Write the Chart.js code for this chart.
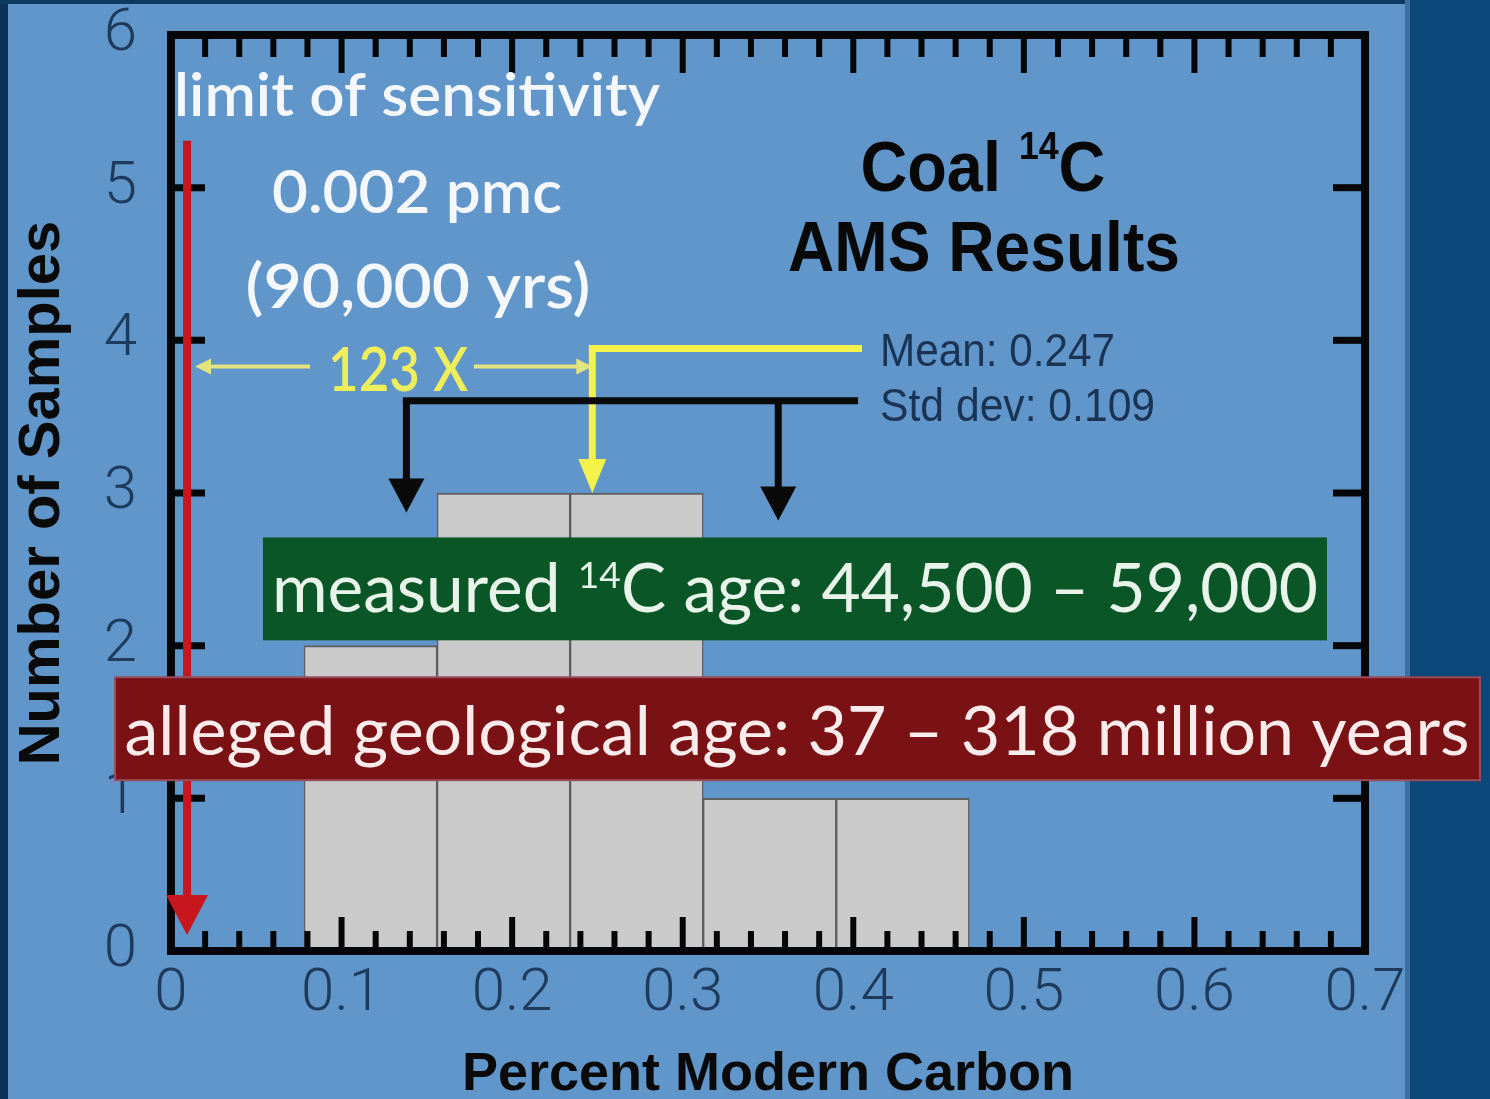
<!DOCTYPE html>
<html><head><meta charset="utf-8">
<script src="https://cdn.jsdelivr.net/npm/chart.js@4.4.1/dist/chart.umd.min.js"></script>
<style>html,body{margin:0;padding:0;background:#6096c9;overflow:hidden}canvas{display:block}</style>
</head><body>
<canvas id="c" width="1490" height="1099" style="width:1490px;height:1099px"></canvas>
<script>
// ---- data ----
const binEdges = [0.078, 0.156, 0.234, 0.312, 0.390, 0.468];
const sampleCounts = [2, 3, 3, 1, 1];
const xTickLabels = ['0', '0.1', '0.2', '0.3', '0.4', '0.5', '0.6', '0.7'];
const yTickLabels = ['0', '1', '2', '3', '4', '5', '6'];
const meanPmc = 0.247;
const stdDevPmc = 0.109;
const barCenters = sampleCounts.map((c, i) => (binEdges[i] + binEdges[i + 1]) / 2);

const BG = '#6096c9';

function drawSegs(ctx, segs, family, weight, size, color, x, y, targetW, align) {
  ctx.save();
  let total = 0;
  const widths = segs.map(s => {
    ctx.font = weight + ' ' + (size * (s.k || 1)) + 'px ' + family;
    const w = ctx.measureText(s.t).width;
    total += w;
    return w;
  });
  const sx = targetW / total;
  const x0 = align === 'left' ? x : x - targetW / 2;
  ctx.translate(x0, y);
  ctx.scale(sx, 1);
  ctx.fillStyle = color;
  ctx.textBaseline = 'alphabetic';
  ctx.textAlign = 'left';
  let cx = 0;
  segs.forEach((s, i) => {
    ctx.font = weight + ' ' + (size * (s.k || 1)) + 'px ' + family;
    ctx.fillText(s.t, cx, -(s.up || 0) * size);
    cx += widths[i];
  });
  ctx.restore();
}

function arrow(ctx, pts, lw, headLen, headHalf, color) {
  // pts: polyline, last point is the tip
  ctx.save();
  ctx.strokeStyle = color; ctx.fillStyle = color; ctx.lineWidth = lw; ctx.lineCap = 'butt'; ctx.lineJoin = 'miter';
  const n = pts.length;
  const [tx, ty] = pts[n - 1];
  const [px, py] = pts[n - 2];
  const d = Math.hypot(tx - px, ty - py);
  const ux = (tx - px) / d, uy = (ty - py) / d;
  const bx = tx - ux * headLen, by = ty - uy * headLen;
  ctx.beginPath();
  ctx.moveTo(pts[0][0], pts[0][1]);
  for (let i = 1; i < n - 1; i++) ctx.lineTo(pts[i][0], pts[i][1]);
  ctx.lineTo(bx + ux * 2, by + uy * 2);
  ctx.stroke();
  ctx.beginPath();
  ctx.moveTo(tx, ty);
  ctx.lineTo(bx - uy * headHalf, by + ux * headHalf);
  ctx.lineTo(bx + uy * headHalf, by - ux * headHalf);
  ctx.closePath();
  ctx.fill();
  ctx.restore();
}

const backgroundPlugin = {
  id: 'bg',
  beforeDraw(chart) {
    const ctx = chart.ctx, W = chart.width, H = chart.height;
    ctx.save();
    ctx.fillStyle = BG; ctx.fillRect(0, 0, W, H);
    ctx.fillStyle = '#0b3358'; ctx.fillRect(0, 0, 8, H);
    ctx.fillStyle = '#0d3a63'; ctx.fillRect(0, 0, W, 4);
    ctx.fillStyle = '#3f6f9e'; ctx.fillRect(1405, 0, 6, H);
    ctx.fillStyle = '#0b4778'; ctx.fillRect(1410, 0, W - 1410, H);
    ctx.restore();
  }
};

const axisBoxPlugin = {
  id: 'axisBox',
  afterDatasetsDraw(chart) {
    const ctx = chart.ctx, xs = chart.scales.x, ys = chart.scales.y;
    const {left, right, top, bottom} = chart.chartArea;
    ctx.save();
    ctx.strokeStyle = '#050608';
    ctx.lineCap = 'butt';
    ctx.lineWidth = 6;
    const line = (a, b, c, d) => { ctx.beginPath(); ctx.moveTo(a, b); ctx.lineTo(c, d); ctx.stroke(); };
    for (let i = 0; i <= 35; i++) {
      const px = xs.getPixelForValue(i * 0.02);
      const major = i % 5 === 0;
      line(px, bottom, px, bottom - (major ? 34 : 20));
      line(px, top, px, top + (major ? 38 : 22));
    }
    ctx.lineWidth = 7;
    for (let j = 0; j <= 6; j++) {
      const py = ys.getPixelForValue(j);
      line(left, py, left + 34, py);
      line(right, py, right - 32, py);
    }
    ctx.lineWidth = 8;
    ctx.strokeRect(left, top, right - left, bottom - top);
    ctx.restore();
  }
};

const annotationPlugin = {
  id: 'notes',
  afterDraw(chart) {
    const ctx = chart.ctx, xs = chart.scales.x, ys = chart.scales.y;
    const X = v => xs.getPixelForValue(v);
    const Y = v => ys.getPixelForValue(v);
    const hand = "Lato, 'Open Sans', 'Noto Sans', sans-serif";
    const arial = "'Liberation Sans', Arial, sans-serif";

    // red limit-of-sensitivity arrow
    arrow(ctx, [[X(0.0094), Y(5.307)], [X(0.0094), Y(0.105)]], 8, 40, 21, '#c8161d');

    // white notes
    drawSegs(ctx, [{t: 'limit of sensitivity'}], hand, '600', 60, '#f4f7fb', X(0.0018), Y(5.47), 486, 'left');
    drawSegs(ctx, [{t: '0.002 pmc'}], hand, '600', 60, '#f4f7fb', X(0.1442), Y(4.835), 290, 'center');
    drawSegs(ctx, [{t: '(90,000 yrs)'}], hand, '600', 62, '#f4f7fb', X(0.1448), Y(4.214), 345, 'center');

    // 123 X arrows
    arrow(ctx, [[X(0.0815), Y(3.828)], [X(0.0141), Y(3.828)]], 4, 16, 8, '#e2e47e');
    arrow(ctx, [[X(0.1776), Y(3.828)], [X(meanPmc), Y(3.828)]], 4, 16, 8, '#e2e47e');
    drawSegs(ctx, [{t: '123 X'}], hand, '600', 62, '#eeee5c', X(0.1331), Y(3.671), 140, 'center');

    // mean arrow (yellow)
    arrow(ctx, [[X(0.4051), Y(3.946)], [X(meanPmc), Y(3.946)], [X(meanPmc), Y(3.0)]], 7, 34, 14, '#f4f34c');
    // std-dev bracket (black)
    ctx.save();
    ctx.strokeStyle = '#0a0a0a'; ctx.lineWidth = 7;
    ctx.beginPath(); ctx.moveTo(X(meanPmc - stdDevPmc) - 3.5, Y(3.605)); ctx.lineTo(X(0.4028), Y(3.605)); ctx.stroke();
    ctx.restore();
    arrow(ctx, [[X(meanPmc - stdDevPmc), Y(3.605)], [X(meanPmc - stdDevPmc), Y(2.873)]], 7, 34, 18, '#0a0a0a');
    arrow(ctx, [[X(meanPmc + stdDevPmc), Y(3.605)], [X(meanPmc + stdDevPmc), Y(2.82)]], 7, 34, 18, '#0a0a0a');

    drawSegs(ctx, [{t: 'Mean: ' + meanPmc.toFixed(3)}], arial, 'normal', 46, '#1c3454', X(0.4157), Y(3.834), 235, 'left');
    drawSegs(ctx, [{t: 'Std dev: ' + stdDevPmc.toFixed(3)}], arial, 'normal', 46, '#1c3454', X(0.4157), Y(3.474), 275, 'left');

    // chart title
    drawSegs(ctx, [{t: 'Coal '}, {t: '14', k: 0.55, up: 0.45}, {t: 'C'}], arial, 'bold', 70, '#080808', X(0.476), Y(4.979), 245, 'center');
    drawSegs(ctx, [{t: 'AMS Results'}], arial, 'bold', 70, '#080808', X(0.4766), Y(4.456), 392, 'center');

    // green banner
    ctx.save();
    ctx.fillStyle = '#0a5626';
    const gx0 = X(0.0539), gx1 = X(0.6777), gy0 = Y(2.709), gy1 = Y(2.035);
    ctx.fillRect(gx0, gy0, gx1 - gx0, gy1 - gy0);
    ctx.restore();
    drawSegs(ctx, [{t: 'measured '}, {t: '14', k: 0.55, up: 0.36}, {t: 'C age: 44,500 – 59,000'}], hand, 'normal', 68, '#e8f3ea', X(0.3658), Y(2.218), 1046, 'center');

    // red banner
    ctx.save();
    const rx0 = X(-0.0328), rx1 = X(0.7674), ry0 = Y(1.793), ry1 = Y(1.119);
    ctx.fillStyle = '#7a1115';
    ctx.fillRect(rx0, ry0, rx1 - rx0, ry1 - ry0);
    ctx.strokeStyle = '#9a4a5a'; ctx.lineWidth = 2;
    ctx.strokeRect(rx0, ry0, rx1 - rx0, ry1 - ry0);
    ctx.restore();
    drawSegs(ctx, [{t: 'alleged geological age: 37 – 318 million years'}], hand, 'normal', 67, '#fbecec', X(0.367), Y(1.282), 1345, 'center');
  }
};

const chart = new Chart(document.getElementById('c'), {
  type: 'bar',
  data: {
    datasets: [{
      label: 'Number of Samples',
      data: sampleCounts.map((c, i) => ({x: barCenters[i], y: c})),
      backgroundColor: '#cacaca',
      borderColor: '#5e5e5e',
      borderWidth: {top: 2, left: 1.5, right: 1.5, bottom: 0},
      categoryPercentage: 1,
      barPercentage: 1
    }]
  },
  options: {
    responsive: false,
    animation: false,
    devicePixelRatio: 1,
    layout: {padding: {left: 0, right: 125, top: 35, bottom: 0}},
    plugins: {legend: {display: false}, tooltip: {enabled: false}},
    scales: {
      x: {
        type: 'linear', min: 0, max: 0.7, offset: false,
        grid: {display: false, drawTicks: false},
        border: {display: false},
        ticks: {
          stepSize: 0.1, padding: 8, color: '#1e3a5c', autoSkip: false, maxRotation: 0,
          font: {family: 'Roboto, "Liberation Sans", sans-serif', weight: 300, size: 60, lineHeight: 1.2},
          callback: (v, i) => xTickLabels[i]
        },
        title: {
          display: true, text: 'Percent Modern Carbon', color: '#0a0a0a',
          font: {family: '"Liberation Sans", Arial, sans-serif', weight: 'bold', size: 54, lineHeight: 0.8},
          padding: {top: 0, bottom: 2}
        },
        afterFit: s => { s.height = 148; }
      },
      y: {
        min: 0, max: 6,
        grid: {display: true, drawOnChartArea: false, drawTicks: true, tickLength: 34, color: 'rgba(0,0,0,0)'},
        border: {display: false},
        ticks: {
          stepSize: 1, padding: 0, color: '#1e3a5c',
          font: {family: 'Roboto, "Liberation Sans", sans-serif', weight: 300, size: 60, lineHeight: 1.0},
          callback: (v, i) => yTickLabels[i]
        },
        title: {
          display: true, text: 'Number of Samples', color: '#0a0a0a',
          font: {family: '"Liberation Sans", Arial, sans-serif', weight: 'bold', size: 58, lineHeight: 1.2},
          padding: {top: 8, bottom: 0}
        },
        afterFit: s => { s.width = 171; }
      }
    }
  },
  plugins: [backgroundPlugin, axisBoxPlugin, annotationPlugin]
});
</script>
</body></html>
